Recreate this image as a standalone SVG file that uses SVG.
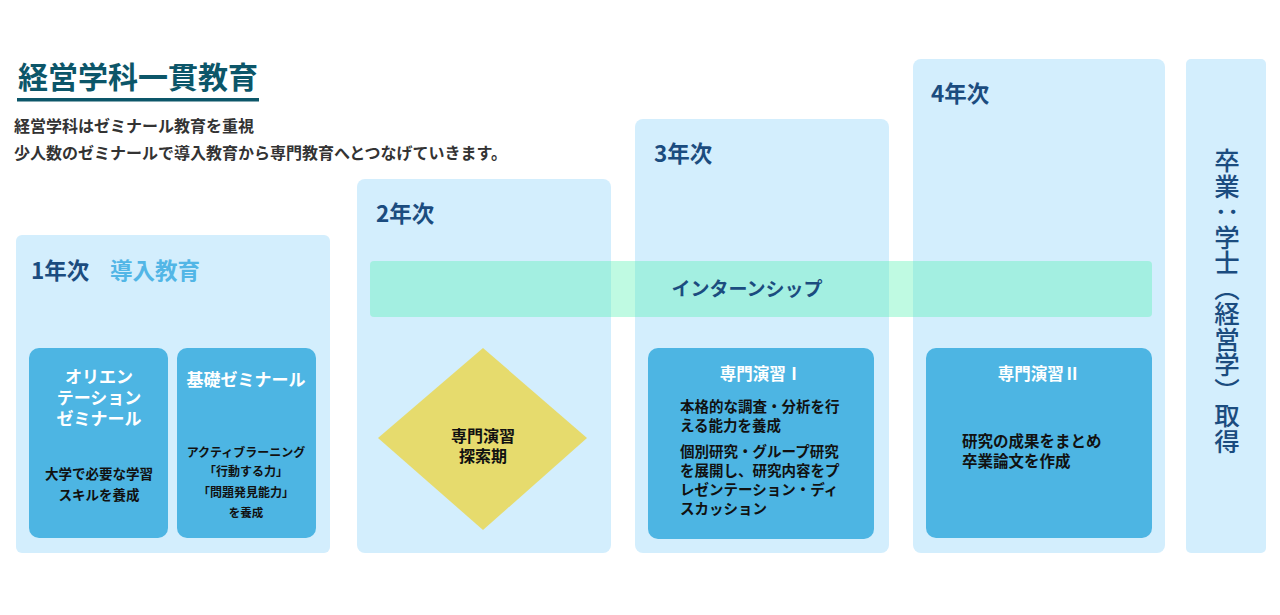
<svg xmlns="http://www.w3.org/2000/svg" width="1280" height="615" viewBox="0 0 1280 615">
<style>
text{font-family:"Noto Sans CJK JP","Noto Sans",sans-serif;font-weight:bold}
.panel{fill:#d3eefd}
.box{fill:#4db5e3}
.yr{fill:#1b4c7f}
.wh{fill:#fff;text-anchor:middle}
.bk{fill:#111}
.c{text-anchor:middle}
</style>
<rect width="1280" height="615" fill="#fff"/>
<g id="header">
<text x="18" y="88" font-size="30" fill="#0c5669">経営学科一貫教育</text>
<rect x="17" y="98" width="242" height="3.5" fill="#0c5669"/>
<text x="14" y="132" font-size="16" fill="#333">経営学科はゼミナール教育を重視</text>
<text x="14" y="159" font-size="16" fill="#333">少人数のゼミナールで導入教育から専門教育へとつなげていきます。</text>
</g>
<g id="year1">
<rect class="panel" x="16" y="235" width="314" height="318" rx="6"/>
<text class="yr" x="31" y="279" font-size="22.5">1年次</text>
<text x="110" y="279" font-size="22.5" fill="#52b6e6">導入教育</text>
</g>
<g id="orientation-seminar">
<rect class="box" x="29" y="348" width="139" height="190" rx="10"/>
<text class="wh" x="99" y="383" font-size="17">オリエン</text>
<text class="wh" x="99" y="404" font-size="17">テーション</text>
<text class="wh" x="99" y="425" font-size="17">ゼミナール</text>
<text class="bk c" x="99" y="479" font-size="13.5">大学で必要な学習</text>
<text class="bk c" x="99" y="500" font-size="13.5">スキルを養成</text>
</g>
<g id="basic-seminar">
<rect class="box" x="177" y="348" width="139" height="190" rx="10"/>
<text class="wh" x="246" y="386" font-size="17">基礎ゼミナール</text>
<text class="bk c" x="246" y="457" font-size="12">アクティブラーニング</text>
<text class="bk c" x="246" y="476" font-size="12">「行動する力」</text>
<text class="bk c" x="246" y="497" font-size="12">「問題発見能力」</text>
<text class="bk c" x="246" y="517" font-size="11.5">を養成</text>
</g>
<g id="year2">
<rect class="panel" x="357" y="179" width="254" height="374" rx="8"/>
<text class="yr" x="376" y="222" font-size="22.5">2年次</text>
</g>
<g id="year3">
<rect class="panel" x="635" y="119" width="254" height="434" rx="8"/>
<text class="yr" x="654" y="162" font-size="22.5">3年次</text>
</g>
<g id="year4">
<rect class="panel" x="913" y="59" width="252" height="494" rx="8"/>
<text class="yr" x="931" y="102" font-size="22.5">4年次</text>
</g>
<g id="graduation">
<rect class="panel" x="1186" y="59" width="80" height="494" rx="5"/>
<text x="1227" y="148" fill="#1b4c7f" style="writing-mode:vertical-rl;font-weight:500;font-size:25.5px">卒業：学士（経営学）取得</text>
</g>
<g id="internship">
<rect x="370" y="261" width="782" height="56" rx="4" fill="#4ef0b0" fill-opacity="0.36"/>
<text x="747" y="296" font-size="19" fill="#1b4c7f" text-anchor="middle">インターンシップ</text>
</g>
<g id="exploration">
<polygon points="483,348 587,438 483,530 378,438" fill="#e6db6d"/>
<text class="c" x="483" y="442" font-size="16" fill="#111">専門演習</text>
<text class="c" x="483" y="462" font-size="16" fill="#111">探索期</text>
</g>
<g id="seminar1">
<rect class="box" x="648" y="348" width="226" height="191" rx="10"/>
<text class="wh" x="761" y="380" font-size="16.5">専門演習Ⅰ</text>
<text class="bk" x="680" y="412" font-size="14.5">本格的な調査・分析を行</text>
<text class="bk" x="680" y="431" font-size="14.5">える能力を養成</text>
<text class="bk" x="680" y="457" font-size="14.5">個別研究・グループ研究</text>
<text class="bk" x="680" y="476" font-size="14.5">を展開し、研究内容をプ</text>
<text class="bk" x="680" y="495" font-size="14.5">レゼンテーション・ディ</text>
<text class="bk" x="680" y="514" font-size="14.5">スカッション</text>
</g>
<g id="seminar2">
<rect class="box" x="926" y="348" width="226" height="190" rx="10"/>
<text class="wh" x="1039" y="380" font-size="16.5">専門演習Ⅱ</text>
<text class="bk" x="962" y="447" font-size="15.5">研究の成果をまとめ</text>
<text class="bk" x="962" y="467" font-size="15.5">卒業論文を作成</text>
</g>
<g id="connectors"></g>
</svg>
